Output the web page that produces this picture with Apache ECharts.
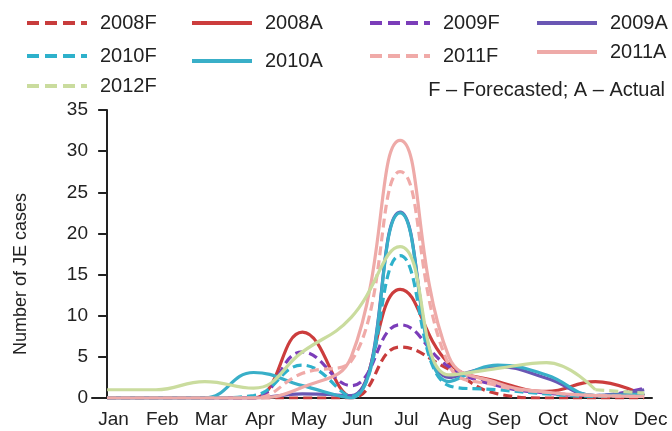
<!DOCTYPE html>
<html>
<head>
<meta charset="utf-8">
<script src="https://cdn.jsdelivr.net/npm/echarts@6/dist/echarts.min.js"></script>
<style>
  html, body { margin: 0; padding: 0; background: #fff; }
  #chart { width: 672px; height: 431px; }
</style>
</head>
<body>
<div id="chart"></div>
<script>
const months = ["Jan", "Feb", "Mar", "Apr", "May", "Jun", "Jul", "Aug", "Sep", "Oct", "Nov", "Dec"];

// JE cases per month
const f2008 = [0, 0, 0, 0, 0, 0, 6.2, 3.5, 0.5, 0, 0, 0];
const a2008 = [0, 0, 0, 0, 8.0, 0.2, 13.2, 4.2, 2.0, 0.8, 2.0, 0.3];
const f2009 = [0, 0, 0, 0, 5.6, 1.5, 8.9, 3.8, 1.5, 0.6, 0.3, 1.2];
const a2009 = [0, 0, 0, 0, 0.5, 0.3, 22.6, 2.5, 3.8, 2.4, 0.3, 1.0];
const f2010 = [0, 0, 0, 0.3, 4.0, 0.2, 17.3, 1.5, 1.0, 0.5, 0.2, 0.5];
const a2010 = [0, 0, 0, 3.1, 1.5, 0, 22.5, 2.0, 4.0, 2.8, 0.3, 0.5];
const f2011 = [0, 0, 0, 0, 3.0, 4.5, 27.5, 4.0, 1.5, 0.7, 0.3, 0.2];
const a2011 = [0, 0, 0, 0, 1.3, 5.0, 31.3, 5.0, 1.8, 0.7, 0.3, 0.2];
const f2012 = [1.0, 1.0, 2.0, 1.2, 5.6, 9.8, 18.4, 2.8, 3.6, 4.3, 1.0, 0.6];

const names = ["2008F", "2008A", "2009F", "2009A", "2010F", "2010A", "2011F", "2011A", "2012F"];
const values = [f2008, a2008, f2009, a2009, f2010, a2010, f2011, a2011, f2012];
const colors = ["#c83c3c", "#cc3d3d", "#7b3db9", "#6a57b4", "#2eb1cb", "#39afc8", "#f0aaa8", "#eeaaa8", "#cadc9e"];

// legend layout: [icon left, row centre]
const legendPos = {
  "2008F": [20, 18], "2008A": [185, 18], "2009F": [363, 18], "2009A": [530, 18],
  "2010F": [20, 51], "2010A": [185, 56], "2011F": [363, 51], "2011A": [530, 47],
  "2012F": [20, 81]
};

const dash = [9, 5];
const toPts = (arr, from, to) => arr.map((v, i) => (i >= from && i <= to ? [i, v] : [i, null]));

const series = [];
names.forEach((name, k) => {
  const isF = name.endsWith("F");
  const line = (data, type) => ({
    name: name,
    type: "line",
    data: data,
    smooth: 0.45,
    symbol: "none",
    lineStyle: { color: colors[k], width: 3.2, type: type },
    itemStyle: { color: colors[k] },
    z: 2
  });
  if (name === "2012F") {
    // drawn solid through Nov in the figure, dashed for the tail
    series.push(line(toPts(values[k], 10, 11), dash));
    series.push(line(toPts(values[k], 0, 10), "solid"));
  } else {
    series.push(line(toPts(values[k], 0, 11), isF ? dash : "solid"));
  }
});

const legends = names.map(name => ({
  data: [name],
  left: legendPos[name][0],
  top: legendPos[name][1] - 10,
  itemWidth: 60,
  itemHeight: 14,
  selectedMode: false,
  itemStyle: { opacity: 0 },
  lineStyle: { width: 4, type: name.endsWith("F") ? [12, 6] : "solid" },
  textStyle: { fontSize: 20, color: "#222", fontFamily: "Liberation Sans", padding: [0, 0, 0, 8], lineHeight: 20 }
}));

const chart = echarts.init(document.getElementById("chart"));
chart.setOption({
  animation: false,
  textStyle: { fontFamily: "Liberation Sans" },
  title: {
    text: "F \u2013 Forecasted; A \u2013 Actual",
    right: 2,
    top: 75,
    textStyle: { fontSize: 20, fontWeight: "normal", color: "#222", fontFamily: "Liberation Sans" }
  },
  legend: legends,
  grid: { left: 92, right: 20, top: 110, bottom: 33, containLabel: false },
  xAxis: {
    type: "value",
    min: -0.31,
    max: 11.16,
    splitLine: { show: false },
    axisTick: { show: false },
    axisLine: { lineStyle: { color: "#222", width: 2 } },
    axisLabel: {
      customValues: months.map((m, i) => i + 0.13),
      formatter: v => months[Math.round(v)],
      fontSize: 19,
      color: "#222",
      margin: 12
    }
  },
  yAxis: {
    type: "value",
    min: 0,
    max: 35,
    interval: 5,
    name: "Number of JE cases",
    nameLocation: "middle",
    nameGap: 62,
    nameTextStyle: { fontSize: 18, color: "#222", padding: [0, 40, 0, 0] },
    splitLine: { show: false },
    axisLine: { show: true, lineStyle: { color: "#222", width: 2 } },
    axisTick: { show: true, length: 9, lineStyle: { color: "#222", width: 2 } },
    axisLabel: { fontSize: 19, color: "#222", margin: 4 }
  },
  series: series
});
</script>
</body>
</html>
